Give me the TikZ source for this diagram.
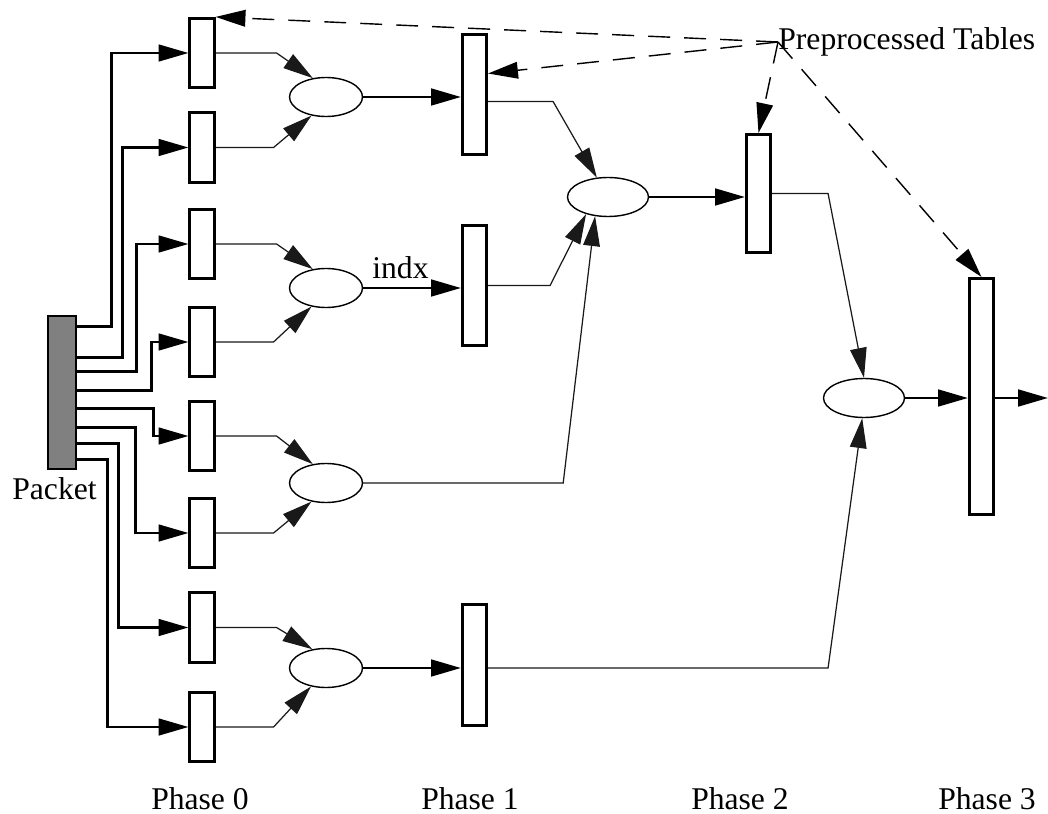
\documentclass[tikz,border=0pt]{standalone}
\usepackage{fontspec}
\setmainfont{Liberation Serif}
\usepackage{tikz}
\usetikzlibrary{arrows.meta,positioning,calc,shapes}
\definecolor{pktgray}{RGB}{128,128,128}
\definecolor{linkgray}{RGB}{25,25,25}
\tikzset{
  tblbox/.style={draw, fill=white, line width=1.5pt, inner sep=0pt, minimum width=0.49cm},
  pktbox/.style={draw, fill=pktgray, line width=1.5pt, inner sep=0pt, minimum width=0.56cm, minimum height=3.06cm},
  mergeop/.style={draw, ellipse, line width=0.8pt, inner sep=0pt, minimum width=1.46cm, minimum height=0.78cm},
  feedln/.style={-{Triangle[length=17pt,width=9.5pt]}, line width=1.4pt},
  linkln/.style={-{Triangle[length=17pt,width=9.5pt]}, line width=0.7pt, linkgray},
  flowln/.style={-{Triangle[length=17pt,width=9.5pt]}, line width=1.5pt},
  tableln/.style={-{Triangle[length=17pt,width=9.5pt]}, line width=0.8pt, dash pattern=on 12.5pt off 8pt},
  lbl/.style={font=\fontsize{18}{21}\selectfont, inner sep=0pt},
}

\begin{document}
\begin{tikzpicture}[x=0.02cm, y=-0.02cm]
    \useasboundingbox (0,0) rectangle (1048,814);
    % packet
    \node[pktbox] (pkt) at (62,392.5) {};
    \node[lbl] (pktlbl) at (54.5,489) {Packet};
    % phase 0 tables
    \node[tblbox, minimum height=1.39cm] (p0a) at (202,53) {};
    \node[tblbox, minimum height=1.39cm] (p0b) at (202,147.5) {};
    \node[tblbox, minimum height=1.39cm] (p0c) at (202,244) {};
    \node[tblbox, minimum height=1.39cm] (p0d) at (202,342) {};
    \node[tblbox, minimum height=1.39cm] (p0e) at (202,436) {};
    \node[tblbox, minimum height=1.39cm] (p0f) at (202,533) {};
    \node[tblbox, minimum height=1.39cm] (p0g) at (202,627.5) {};
    \node[tblbox, minimum height=1.39cm] (p0h) at (202,727) {};
    % phase 0 merges
    \node[mergeop] (m0a) at (326,97) {};
    \node[mergeop] (m0b) at (326,288) {};
    \node[mergeop] (m0c) at (326,483) {};
    \node[mergeop] (m0d) at (326,668) {};
    % phase 1
    \node[tblbox, minimum height=2.41cm] (p1a) at (474.5,94.5) {};
    \node[tblbox, minimum height=2.41cm] (p1b) at (474.5,285.5) {};
    \node[tblbox, minimum height=2.41cm] (p1c) at (474.5,665) {};
    \node[mergeop, minimum width=1.62cm] (m1) at (608,197) {};
    % phase 2
    \node[tblbox, minimum height=2.37cm] (p2) at (758.5,193.5) {};
    \node[mergeop, minimum width=1.62cm] (m2) at (864,398) {};
    % phase 3
    \node[tblbox, minimum height=4.73cm] (p3) at (981.5,396.5) {};
    \coordinate (out) at (1048,398);
    % labels
    \node[lbl, anchor=west] (tabs) at (778,42) {Preprocessed Tables};
    \node[lbl, anchor=base west] (idx) at (372,278) {indx};
    \node[lbl, anchor=base] (ph0) at (200,809) {Phase 0};
    \node[lbl, anchor=base] (ph1) at (470,809) {Phase 1};
    \node[lbl, anchor=base] (ph2) at (740,809) {Phase 2};
    \node[lbl, anchor=base] (ph3) at (987,809) {Phase 3};

    % packet fields to phase 0
    \draw[feedln] ($(pkt.north east)+(0,12)$) -| ($(p0a.west)+(-77,0)$) -- (p0a.west);
    \draw[feedln] ($(pkt.north east)+(0,43)$) -| ($(p0b.west)+(-66,0)$) -- (p0b.west);
    \draw[feedln] ($(pkt.north east)+(0,57)$) -| ($(p0c.west)+(-52,0)$) -- (p0c.west);
    \draw[feedln] ($(pkt.north east)+(0,76)$) -| ($(p0d.west)+(-37,0)$) -- (p0d.west);
    \draw[feedln] ($(pkt.north east)+(0,94)$) -| ($(p0e.west)+(-35,0)$) -- (p0e.west);
    \draw[feedln] ($(pkt.north east)+(0,113)$) -| ($(p0f.west)+(-53,0)$) -- (p0f.west);
    \draw[feedln] ($(pkt.north east)+(0,129)$) -| ($(p0g.west)+(-70,0)$) -- (p0g.west);
    \draw[feedln] ($(pkt.north east)+(0,145)$) -| ($(p0h.west)+(-81,0)$) -- (p0h.west);
    % phase 0 tables to merges
    \draw[linkln] (p0a.east) -- ++(61,0) -- (m0a.125);
    \draw[linkln] (p0b.east) -- ++(58,0) -- (m0a.232);
    \draw[linkln] (p0c.east) -- ++(61,0) -- (m0b.125);
    \draw[linkln] (p0d.east) -- ++(58,0) -- (m0b.232);
    \draw[linkln] (p0e.east) -- ++(61,0) -- (m0c.125);
    \draw[linkln] (p0f.east) -- ++(58,0) -- (m0c.232);
    \draw[linkln] (p0g.east) -- ++(61,0) -- (m0d.126);
    \draw[linkln] (p0h.east) -- ++(58,0) -- (m0d.231);
    % merges to phase 1
    \draw[flowln] (m0a.east) -- (m0a.east -| p1a.west);
    \draw[flowln] (m0b.east) -- (m0b.east -| p1b.west);
    \draw[flowln] (m0d.east) -- (m0d.east -| p1c.west);
    % phase 1 to phase 2
    \draw[linkln] ($(p1a.east)+(0,7)$) -- ++(65,0) -- (m1.120);
    \draw[linkln] (p1b.east) -- ++(62,0) -- (m1.218);
    \draw[linkln] (m0c.east) -- ++(200,0) -- (m1.236);
    \draw[flowln] (m1.east) -- (m1.east -| p2.west);
    % phase 2 to phase 3
    \draw[linkln] (p2.east) -- ++(56,0) -- (m2.north);
    \draw[linkln] (p1c.east |- m0d.east) -- ++(340,0) -- (m2.265);
    \draw[flowln] (m2.east) -- (m2.east -| p3.west);
    \draw[flowln] (p3.east |- m2.east) -- (out);
    % preprocessed tables
    \draw[tableln] (tabs.west) -- (p0a.north east);
    \draw[tableln] (tabs.west) -- ($(p1a.east)+(0,-21)$);
    \draw[tableln] (tabs.west) -- (p2.north);
    \draw[tableln] (tabs.west) -- (p3.north);
\end{tikzpicture}
\end{document}
